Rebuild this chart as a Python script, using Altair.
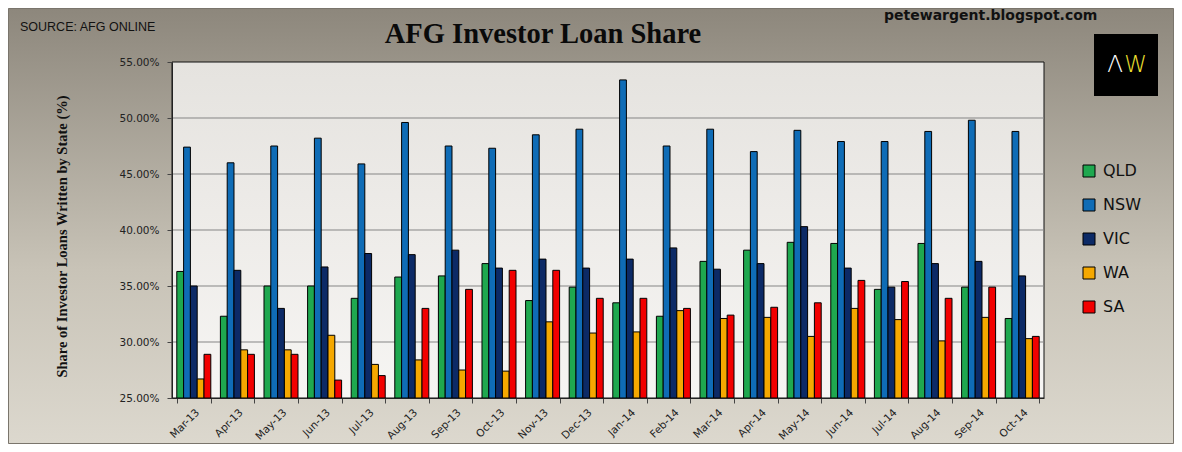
import altair as alt
import pandas as pd

months = ["Mar-13", "Apr-13", "May-13", "Jun-13", "Jul-13", "Aug-13", "Sep-13", "Oct-13",
          "Nov-13", "Dec-13", "Jan-14", "Feb-14", "Mar-14", "Apr-14", "May-14", "Jun-14",
          "Jul-14", "Aug-14", "Sep-14", "Oct-14"]
states = ["QLD", "NSW", "VIC", "WA", "SA"]

QLD = [36.3, 32.3, 35.0, 35.0, 33.9, 35.8, 35.9, 37.0, 33.7, 34.9, 33.5, 32.3, 37.2, 38.2, 38.9, 38.8, 34.7, 38.8, 34.9, 32.1]
NSW = [47.4, 46.0, 47.5, 48.2, 45.9, 49.6, 47.5, 47.3, 48.5, 49.0, 53.4, 47.5, 49.0, 47.0, 48.9, 47.9, 47.9, 48.8, 49.8, 48.8]
VIC = [35.0, 36.4, 33.0, 36.7, 37.9, 37.8, 38.2, 36.6, 37.4, 36.6, 37.4, 38.4, 36.5, 37.0, 40.3, 36.6, 34.9, 37.0, 37.2, 35.9]
WA = [26.7, 29.3, 29.3, 30.6, 28.0, 28.4, 27.5, 27.4, 31.8, 30.8, 30.9, 32.8, 32.1, 32.2, 30.5, 33.0, 32.0, 30.1, 32.2, 30.3]
SA = [28.9, 28.9, 28.9, 26.6, 27.0, 33.0, 34.7, 36.4, 36.4, 33.9, 33.9, 33.0, 32.4, 33.1, 33.5, 35.5, 35.4, 33.9, 34.9, 30.5]

colors = ["#1fa84f", "#0f6cb6", "#0c2a66", "#f5a800", "#f20000"]
y_ticks = [0.25, 0.30, 0.35, 0.40, 0.45, 0.50, 0.55]
grid_vals = [0.30, 0.35, 0.40, 0.45, 0.50]

rows = []
for s, vals in zip(states, [QLD, NSW, VIC, WA, SA]):
    for m, v in zip(months, vals):
        rows.append({"month": m, "state": s, "share": v / 100})
df = pd.DataFrame(rows)
grid_df = pd.DataFrame({"share": grid_vals})
one = pd.DataFrame({"k": [0]})

W, H = 872, 336
PL, PT, PR, PB = 164, 54, 130, 46

yscale = alt.Scale(domain=[0.25, 0.55], zero=False, nice=False)
yaxis = alt.Axis(
    values=y_ticks, format=".2%", grid=False, zindex=1,
    title="Share of Investor Loans Written by State (%)",
    titleFont="Liberation Serif", titleFontSize=14.5, titleFontWeight="bold", titleColor="#111",
    titleX=-110, titleY=174, titleAngle=-90, titleAlign="center", titleBaseline="middle",
    labelFont="DejaVu Sans", labelFontSize=10.5, labelColor="#222", labelPadding=8,
    tickSize=5, tickColor="#444", domainColor="#222", domainWidth=1,
)

def yenc():
    return alt.Y("share:Q", scale=yscale, axis=yaxis)

# outer gradient background
bg = alt.Chart(one).mark_rect(
    color=alt.Gradient(gradient="linear", x1=0, x2=0, y1=0, y2=1,
                       stops=[alt.GradientStop(color="#8d877c", offset=0),
                              alt.GradientStop(color="#c8c3b7", offset=0.6),
                              alt.GradientStop(color="#dcd8ce", offset=1)]),
    stroke="#7a756c", strokeWidth=1
).encode(x=alt.value(-PL + 0.5), x2=alt.value(W + PR - 0.5), y=alt.value(-PT + 0.5), y2=alt.value(H + PB - 0.5))

# plot area panel
panel = alt.Chart(one).mark_rect(
    color=alt.Gradient(gradient="linear", x1=0, x2=0, y1=0, y2=1,
                       stops=[alt.GradientStop(color="#e5e3df", offset=0),
                              alt.GradientStop(color="#eeece9", offset=0.5),
                              alt.GradientStop(color="#f6f5f3", offset=1)]),
    stroke="#111", strokeWidth=1
).encode(x=alt.value(0), x2=alt.value(W), y=alt.value(0), y2=alt.value(H))

grid = alt.Chart(grid_df).mark_rule(color="#858585", strokeWidth=1).encode(y=yenc())

bars = alt.Chart(df).mark_bar(stroke="#000", strokeWidth=1).encode(
    x=alt.X("month:N", sort=months, title=None,
            scale=alt.Scale(paddingInner=0.22, paddingOuter=0.11),
            axis=alt.Axis(labelAngle=-45, labelAlign="right", labelBaseline="top",
                          labelFont="DejaVu Sans", labelFontSize=10.5, labelColor="#222",
                          labelPadding=4, tickBand="extent", tickSize=5, tickColor="#444",
                          domainColor="#222", zindex=1)),
    xOffset=alt.XOffset("state:N", sort=states,
                        scale=alt.Scale(paddingInner=0, paddingOuter=0)),
    y=yenc(),
    y2=alt.datum(0.25),
    color=alt.Color("state:N", sort=states,
                    scale=alt.Scale(domain=states, range=colors),
                    legend=alt.Legend(title=None, orient="none", legendX=909, legendY=101,
                                      symbolType="square", symbolSize=144,
                                      symbolStrokeColor="#000", symbolStrokeWidth=1,
                                      symbolOpacity=1,
                                      labelFont="DejaVu Sans", labelFontSize=16,
                                      labelColor="#111", labelOffset=6,
                                      rowPadding=18, padding=0)),
)

title = alt.Chart(one).mark_text(
    text="AFG Investor Loan Share", font="Liberation Serif", fontSize=28.5,
    fontWeight="bold", color="#0a0a0a", align="center", baseline="alphabetic"
).encode(x=alt.value(543 - 172), y=alt.value(43 - 62))

source = alt.Chart(one).mark_text(
    text="SOURCE: AFG ONLINE", font="Liberation Sans", fontSize=12.5,
    color="#111", align="left", baseline="middle"
).encode(x=alt.value(20 - 172), y=alt.value(27 - 62))

blog = alt.Chart(one).mark_text(
    text="petewargent.blogspot.com", font="DejaVu Sans", fontSize=14, fontWeight="bold",
    color="#111", align="left", baseline="middle"
).encode(x=alt.value(884 - 172), y=alt.value(16 - 62))

logo_box = alt.Chart(one).mark_rect(color="#000").encode(
    x=alt.value(1094 - 172), x2=alt.value(1158 - 172),
    y=alt.value(34 - 62), y2=alt.value(96 - 62))

logo_a = alt.Chart(one).mark_text(
    text="Λ", font="DejaVu Sans", fontSize=23, fontWeight=200, color="#ffffff",
    align="center", baseline="middle"
).encode(x=alt.value(1115 - 172), y=alt.value(65 - 62))

logo_w = alt.Chart(one).mark_text(
    text="W", font="DejaVu Sans", fontSize=23, fontWeight=200, color="#f0e030",
    align="center", baseline="middle"
).encode(x=alt.value(1135.5 - 172), y=alt.value(65 - 62))

chart = alt.layer(bg, panel, grid, bars, title, source, blog, logo_box, logo_a, logo_w).properties(
    width=W, height=H,
    autosize=alt.AutoSizeParams(type="none"),
    padding={"left": PL, "top": PT, "right": PR, "bottom": PB},
    background="#dcd8ce",
).configure_view(stroke=None)

chart.save("out.html", embed_options={"renderer": "svg", "actions": False})
